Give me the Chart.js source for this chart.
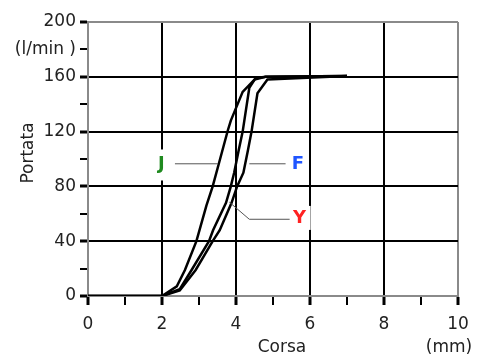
<!DOCTYPE html>
<html>
<head>
<meta charset="utf-8">
<script src="https://cdn.jsdelivr.net/npm/chart.js@4.4.1/dist/chart.umd.min.js"></script>
<style>
  body { margin: 0; background: #fff; }
  canvas { display: block; }
</style>
</head>
<body>
<canvas id="myChart" width="480" height="358"></canvas>
<script>
// corsa (mm) / portata (l/min)
var corsaJ   = [0, 2, 2.4, 2.62, 2.93, 3.2, 3.37, 3.55, 3.78, 3.86, 4.18, 4.5, 4.8, 7];
var portataJ = [0, 0, 7, 19, 40, 66, 80, 98, 121, 128, 149, 158, 160, 160.5];

var corsaY   = [0, 2, 2.48, 2.8, 3.27, 3.38, 3.73, 3.86, 3.95, 4.07, 4.18, 4.36, 4.53, 4.8, 7];
var portataY = [0, 0, 5, 19, 40, 48, 68, 80, 90, 106, 120, 152, 159, 160, 160.5];

var corsaF   = [0, 2, 2.48, 2.91, 3.37, 3.56, 3.88, 4.03, 4.2, 4.32, 4.42, 4.58, 4.85, 7];
var portataF = [0, 0, 4, 19, 40, 48, 68, 80, 90, 106, 120, 148, 158, 160.5];

var xTicks = [0, 2, 4, 6, 8, 10];
var yTicks = [0, 40, 80, 120, 160, 200];

function pts(xs, ys) {
    return xs.map(function (x, i) { return { x: x, y: ys[i] }; });
}

var font = 'DejaVu Sans';
var grey = '#8a8a8a';

// labels J, F, Y with their leader lines
var labelsPlugin = {
    id: 'labels',
    afterDatasetsDraw: function (chart) {
        var c = chart.ctx, x = chart.scales.x, y = chart.scales.y;
        function px(v) { return x.getPixelForValue(v); }
        function py(v) { return y.getPixelForValue(v); }
        c.save();
        // white boxes behind the letters
        c.fillStyle = '#fff';
        c.fillRect(px(1.98) - 11, py(96) - 15, 22, 31);
        c.fillRect(px(5.67) - 11, py(96) - 13, 22, 25);
        c.fillRect(px(5.72) - 11, py(57) - 12, 22, 24);
        // leader lines
        c.strokeStyle = '#555';
        c.lineWidth = 1;
        c.beginPath();
        c.moveTo(px(2.35), py(96.5)); c.lineTo(px(3.51), py(96.5));
        c.moveTo(px(4.36), py(96.5)); c.lineTo(px(5.34), py(96.5));
        c.moveTo(px(5.45), py(56)); c.lineTo(px(4.36), py(56)); c.lineTo(px(3.82), py(68.5));
        c.stroke();
        c.font = 'bold 18px ' + font;
        c.textAlign = 'center';
        c.textBaseline = 'middle';
        c.fillStyle = '#1f8a1f';
        c.fillText('J', px(1.98), py(96));
        c.fillStyle = '#1f55ff';
        c.fillText('F', px(5.67), py(96));
        c.fillStyle = '#ff2222';
        c.fillText('Y', px(5.72), py(57));
        // axis titles
        c.font = '17px ' + font;
        c.fillStyle = '#222';
        c.fillText('Corsa', 282, 348);
        c.fillText('(mm)', 449, 348);
        c.translate(29, 153);
        c.rotate(-Math.PI / 2);
        c.fillText('Portata', 0, 0);
        c.restore();
    }
};

var myChart = new Chart(document.getElementById('myChart').getContext('2d'), {
    type: 'scatter',
    data: {
        datasets: [
            { label: 'J', data: pts(corsaJ, portataJ) },
            { label: 'Y', data: pts(corsaY, portataY) },
            { label: 'F', data: pts(corsaF, portataF) }
        ]
    },
    options: {
        responsive: false,
        animation: false,
        showLine: true,
        layout: { padding: { top: 22, right: 22, left: 0, bottom: 0 } },
        elements: {
            line: { borderColor: '#000', borderWidth: 2.5, tension: 0 },
            point: { radius: 0 }
        },
        plugins: { legend: { display: false }, tooltip: { enabled: false } },
        scales: {
            x: {
                type: 'linear',
                min: 0, max: 10,
                afterFit: function (s) { s.height = 62; },
                ticks: {
                    stepSize: 1,
                    padding: 9,
                    color: '#222',
                    font: { family: font, size: 17 },
                    maxRotation: 0,
                    callback: function (v) { return xTicks.indexOf(v) >= 0 ? v : ''; }
                },
                grid: {
                    color: function (ctx) {
                        var v = ctx.tick.value;
                        if (v === 0 || v === 10) return grey;
                        return xTicks.indexOf(v) >= 0 ? '#000' : 'rgba(0,0,0,0)';
                    },
                    lineWidth: 2,
                    tickLength: 9,
                    tickColor: '#000',
                    tickWidth: function (ctx) { return xTicks.indexOf(ctx.tick.value) >= 0 ? 3 : 2; }
                },
                border: { color: grey, width: 2 }
            },
            y: {
                min: 0, max: 200,
                afterFit: function (s) { s.width = 88; },
                ticks: {
                    stepSize: 20,
                    padding: 4,
                    color: '#222',
                    font: { family: font, size: 17 },
                    callback: function (v) {
                        if (yTicks.indexOf(v) >= 0) return v;
                        if (v === 180) return '(l/min )';
                        return '';
                    }
                },
                grid: {
                    color: function (ctx) {
                        var v = ctx.tick.value;
                        if (v === 0 || v === 200) return grey;
                        return yTicks.indexOf(v) >= 0 ? '#000' : 'rgba(0,0,0,0)';
                    },
                    lineWidth: 2,
                    tickLength: 8,
                    tickColor: '#000',
                    tickWidth: function (ctx) { return yTicks.indexOf(ctx.tick.value) >= 0 ? 3 : 2; }
                },
                border: { color: grey, width: 2 }
            }
        }
    },
    plugins: [labelsPlugin]
});
</script>
</body>
</html>
